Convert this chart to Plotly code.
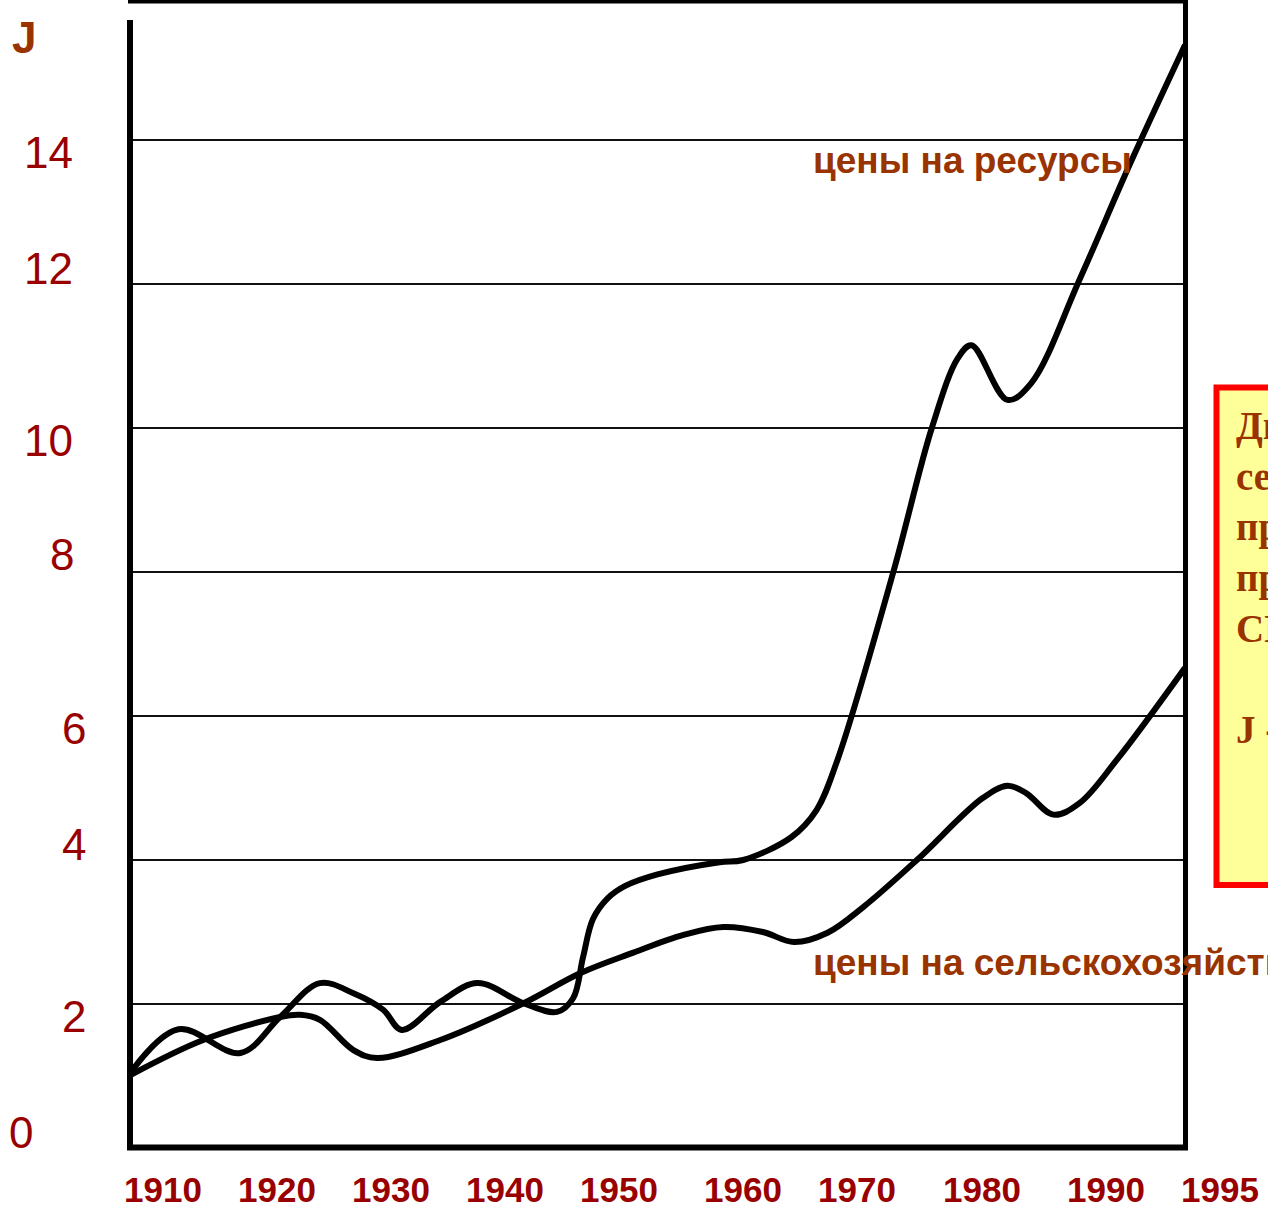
import plotly.graph_objects as go

# ---------------- data ----------------
# x values are in the chart's own horizontal units (year-like scale of the drawing)
res_x = [1907.0, 1910.9, 1915.9, 1919.1, 1922.3, 1925.0, 1927.4, 1928.9, 1932.0, 1935.0,
         1938.7, 1941.4, 1942.7, 1943.5, 1944.3, 1945.5, 1946.9, 1949.5, 1954.5, 1956.4,
         1960.3, 1962.3, 1964.0, 1968.5, 1971.6, 1973.7, 1974.8, 1977.7, 1979.6,
         1983.5, 1987.6, 1992.0]
res_y = [1.04, 1.65, 1.32, 1.82, 2.29, 2.15, 1.92, 1.64, 2.03, 2.29,
         2.01, 1.89, 2.08, 2.65, 3.18, 3.47, 3.64, 3.80, 3.97, 4.00,
         4.32, 4.69, 5.39, 8.00, 10.00, 10.97, 11.15, 10.39, 10.62,
         12.06, 13.68, 15.32]

agr_x = [1907.0, 1912.9, 1919.1, 1920.7, 1922.3, 1925.0, 1926.9, 1932.0, 1938.7, 1943.3,
         1947.5, 1951.6, 1954.8, 1958.0, 1960.5, 1963.2, 1966.1, 1970.4, 1975.7, 1977.7,
         1979.2, 1981.4, 1983.5, 1986.5, 1992.0]
agr_y = [1.01, 1.50, 1.82, 1.85, 1.78, 1.36, 1.25, 1.50, 2.01, 2.43,
         2.71, 2.96, 3.07, 3.00, 2.86, 2.99, 3.35, 4.00, 4.86, 5.03,
         4.93, 4.63, 4.79, 5.39, 6.67]

x_tick_labels = ["1910", "1920", "1930", "1940", "1950", "1960", "1970", "1980", "1990", "1995"]
x_tick_pos = [1909.66, 1918.84, 1928.03, 1937.21, 1946.40, 1956.39, 1965.57, 1975.64, 1985.64, 1994.82]

y_grid = [2, 4, 6, 8, 10, 12, 14]
y_tick_labels = ["14", "12", "10", "8", "6", "4", "2", "0"]
y_tick_pos = [13.82, 12.22, 9.83, 8.24, 5.83, 4.21, 1.82, 0.21]
y_tick_right = [75, 75, 75, 76, 88, 88, 88, 35]   # right edge in px

label_res = "цены на ресурсы"
label_agr = "цены на сельскохозяйственную продукцию"
box_lines = ["Динамика цен на", "сельскохозяйственную", "продукцию и",
             "природные ресурсы в", "США", "\u00a0", "J - индекс цен"]

# ---------------- layout geometry ----------------
W, H = 1268, 1210
X0, X1 = 1907.0, 1992.0
D0, D1 = 130 / W, 1185 / W
Y_MAX = 1148 / 72.0


def fx(px):
    return px / W


def fy(py):
    return 1 - py / H


def xdata_to_paper(x):
    return D0 + (x - X0) / (X1 - X0) * (D1 - D0)


RED = "#990000"
BROWN = "#993300"

fig = go.Figure()
for xs, ys in [(agr_x, agr_y), (res_x, res_y)]:
    fig.add_trace(go.Scatter(x=xs, y=ys, mode="lines",
                             line=dict(color="black", width=6, shape="spline", smoothing=1.0),
                             hoverinfo="skip", showlegend=False))

annotations = []
for lab, pos in zip(x_tick_labels, x_tick_pos):
    annotations.append(dict(text="<b>" + lab + "</b>", xref="paper", yref="paper",
                            x=xdata_to_paper(pos), y=fy(1189), xanchor="center", yanchor="middle",
                            showarrow=False,
                            font=dict(family="Liberation Sans", size=35, color=RED)))

for lab, pos, rx in zip(y_tick_labels, y_tick_pos, y_tick_right):
    annotations.append(dict(text=lab, xref="paper", yref="y", x=fx(rx), y=pos,
                            xanchor="right", yanchor="middle", showarrow=False,
                            font=dict(family="Liberation Sans", size=44, color=RED)))

annotations.append(dict(text="<b>J</b>", xref="paper", yref="y", x=fx(10), y=15.42,
                        xanchor="left", yanchor="middle", showarrow=False,
                        font=dict(family="Liberation Sans", size=44, color=BROWN)))

annotations.append(dict(text="<b>" + label_res + "</b>", xref="paper", yref="paper",
                        x=fx(811), y=fy(161), xanchor="left", yanchor="middle", showarrow=False,
                        font=dict(family="Liberation Sans", size=37, color=BROWN)))
annotations.append(dict(text="<b>" + label_agr + "</b>", xref="paper", yref="paper",
                        x=fx(811), y=fy(962), xanchor="left", yanchor="middle", showarrow=False,
                        font=dict(family="Liberation Sans", size=37, color=BROWN)))

shapes = [
    # yellow note box (continues beyond the right edge)
    dict(type="rect", xref="paper", yref="paper", x0=fx(1216.5), x1=fx(1500),
         y0=fy(885), y1=fy(387.5), line=dict(color="#FF0000", width=6),
         fillcolor="#FFFF99", layer="below"),
    # frame lines
    dict(type="line", xref="paper", yref="paper", x0=fx(130), x1=fx(130), y0=fy(20), y1=fy(1150),
         line=dict(color="black", width=6)),
    dict(type="line", xref="paper", yref="paper", x0=fx(1185.5), x1=fx(1185.5), y0=fy(0), y1=fy(1150),
         line=dict(color="black", width=5)),
    dict(type="line", xref="paper", yref="paper", x0=fx(127), x1=fx(1188), y0=fy(1147.5), y1=fy(1147.5),
         line=dict(color="black", width=6)),
    dict(type="line", xref="paper", yref="paper", x0=fx(128), x1=fx(1184), y0=fy(1.5), y1=fy(1.5),
         line=dict(color="black", width=4)),
]

annotations.append(dict(text="<b>" + "<br>".join(box_lines) + "</b>", xref="paper", yref="paper",
                        x=fx(1234), y=fy(577), xanchor="left", yanchor="middle", align="left",
                        showarrow=False,
                        font=dict(family="Liberation Serif", size=39, color=BROWN)))

fig.update_layout(
    width=W, height=H,
    margin=dict(l=0, r=0, t=0, b=0),
    paper_bgcolor="white", plot_bgcolor="white",
    xaxis=dict(domain=[D0, D1], range=[X0, X1], showgrid=False, zeroline=False,
               showticklabels=False, showline=False, ticks=""),
    yaxis=dict(domain=[fy(1148), 1.0], range=[0, Y_MAX], tickvals=y_grid, showgrid=True,
               gridcolor="#111111", gridwidth=1.5, zeroline=False, showticklabels=False,
               showline=False, ticks=""),
    annotations=annotations,
    shapes=shapes,
)

fig.write_html("out.html", config={"displayModeBar": False},
               post_script="document.body.style.margin='0px';document.body.style.overflow='hidden';")
